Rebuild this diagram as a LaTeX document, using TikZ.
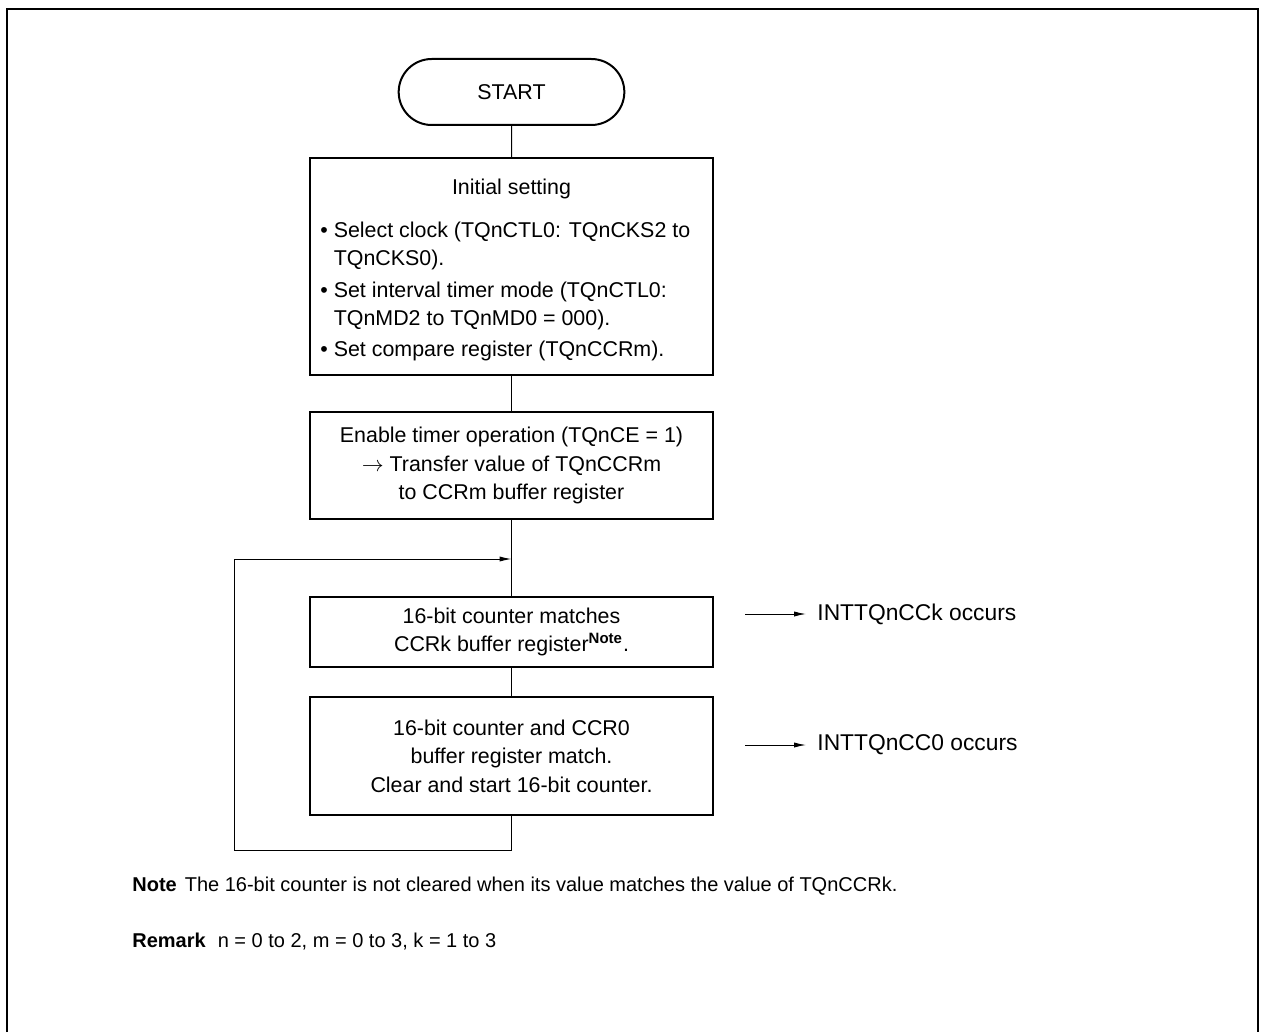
\documentclass[tikz,border=0pt]{standalone}
\usepackage{fontspec}
\setmainfont{Liberation Sans}
\usetikzlibrary{arrows.meta,shapes.misc}

\tikzset{
  boxtext/.style={font=\fontsize{10.7}{14.3}\selectfont},
  sidetext/.style={font=\fontsize{11.4}{14}\selectfont},
  notetext/.style={font=\fontsize{10}{12}\selectfont},
  stepbox/.style={draw, line width=1pt, minimum width=201.5pt, align=center, boxtext, inner sep=0pt},
  flow/.style={line width=0.5pt},
  tip/.style={-{Latex[length=6pt,width=2.6pt]}},
}

\begin{document}
\begin{tikzpicture}[x=0.5pt, y=-0.5pt]
  \useasboundingbox (0,0) rectangle (1261,1032);
  % frame, open at the bottom
  \draw[line width=1.2pt] (7,1032) -- (7,9) -- (1258,9) -- (1258,1032);

  \node[rounded rectangle, draw, line width=1pt, minimum width=119.5pt, minimum height=33pt, boxtext] (start) at (511.5,92) {START};

  % initial setting
  \node[stepbox, minimum height=108.5pt] (init) at (511.5,266.5) {};
  \node[boxtext, anchor=base] (inithead) at (511.5,194.5) {Initial setting};
  \foreach \y/\txt [count=\i] in {237.5/{\textbullet\ Select clock (TQnCTL0: TQnCKS2 to},
      265.5/{\phantom{\textbullet\ }TQnCKS0).},
      297.5/{\textbullet\ Set interval timer mode (TQnCTL0:},
      325.5/{\phantom{\textbullet\ }TQnMD2 to TQnMD0 = 000).},
      356.5/{\textbullet\ Set compare register (TQnCCRm).}}
    \node[boxtext, anchor=base west, inner sep=0pt] (item\i) at (320,\y) {\txt};

  \node[stepbox, minimum height=53.5pt] (enable) at (511.5,465.5)
    {Enable timer operation (TQnCE = 1)\\ $\rightarrow$ Transfer value of TQnCCRm\\ to CCRm buffer register};
  \node[stepbox, minimum height=35pt] (match) at (511.5,632)
    {16-bit counter matches\\ CCRk buffer register\textsuperscript{\bfseries Note}.};
  \node[stepbox, minimum height=59pt] (clear) at (511.5,756)
    {16-bit counter and CCR0\\ buffer register match.\\ Clear and start 16-bit counter.};

  \draw[flow] (start) -- (init);
  \draw[flow] (init) -- (enable);
  \draw[flow] (enable) -- (match);
  \draw[flow] (match) -- (clear);

  % loop back
  \coordinate (back) at (234,850);
  \coordinate (join) at (511.5,559);
  \draw[flow, tip] (clear.south) |- (back) |- (join);

  % interrupts
  \node[sidetext, anchor=west, inner xsep=5.5pt] (intk) at (806,614) {INTTQnCCk occurs};
  \node[sidetext, anchor=west, inner xsep=5.5pt] (int0) at (806,745) {INTTQnCC0 occurs};
  \coordinate (kfrom) at (745,614);
  \coordinate (zfrom) at (745,745);
  \draw[flow, tip] (kfrom) -- (intk.west);
  \draw[flow, tip] (zfrom) -- (int0.west);

  \node[notetext, anchor=base west, inner sep=0pt] (note) at (132,891)
    {\textbf{Note}\hspace{4pt}The 16-bit counter is not cleared when its value matches the value of TQnCCRk.};
  \node[notetext, anchor=base west, inner sep=0pt] (remark) at (132,947)
    {\textbf{Remark}\hspace{6pt}n = 0 to 2, m = 0 to 3, k = 1 to 3};
\end{tikzpicture}
\end{document}
